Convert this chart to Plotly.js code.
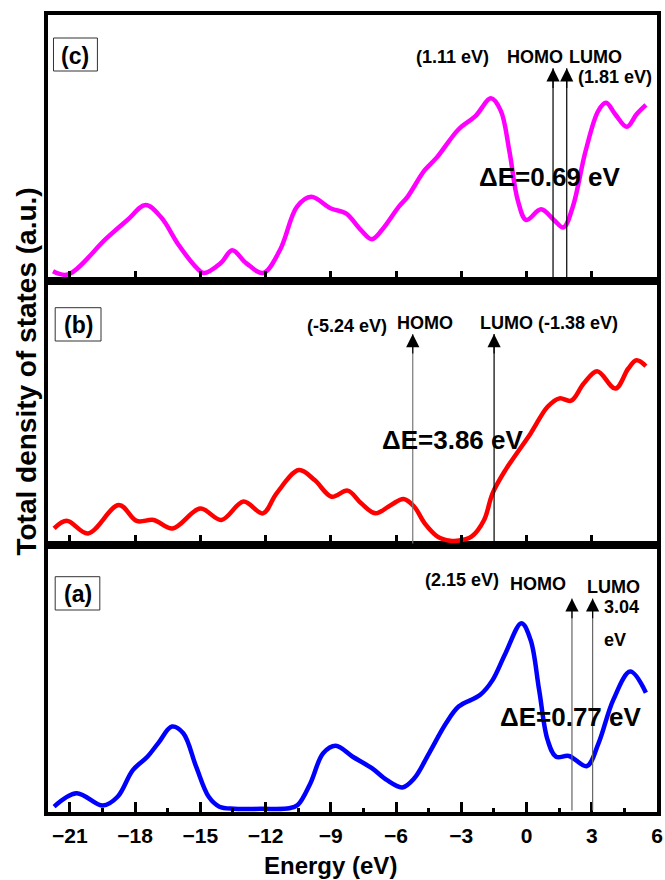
<!DOCTYPE html>
<html>
<head>
<meta charset="utf-8">
<script src="https://cdn.plot.ly/plotly-3.0.1.min.js"></script>
<style>html,body{margin:0;padding:0;background:#fff;}#chart{width:665px;height:880px;}</style>
</head>
<body>
<div id="chart"></div>
<script>
// ---- Data ----
// Panel (c) – magenta
const energyC = [-21.77,-21.08,-19.33,-18.35,-17.51,-16.8,-16.0,-15.23,-14.84,-14.06,-13.53,-12.89,-12.1,-11.33,-10.55,-9.9,-8.99,-8.3,-7.62,-7.11,-6.64,-5.87,-5.47,-4.69,-4.11,-3.13,-2.35,-1.63,-1.18,-0.79,-0.4,-0.01,0.67,1.26,1.7,2.13,2.72,3.3,3.66,4.08,4.61,5.06,5.49];
const dosC    = [3.7,2.5,16,23,28.6,24,13.7,5.6,3.1,6.8,11.6,6.8,3.1,11.8,28,31.7,27.3,25.5,19.3,15.8,19.3,28,31.7,41.6,46.6,57,62,68.7,64,49,30.4,23,27,23,20.2,28,49,64,67,62.7,58,62.7,66.2];
// Panel (b) – red
const energyB = [-21.72,-21.14,-20.16,-18.74,-17.92,-17.14,-16.27,-15.0,-14.03,-13.01,-12.12,-11.49,-10.46,-9.74,-8.96,-8.22,-7.6,-6.95,-6.23,-5.65,-5.16,-4.68,-4.09,-3.51,-3.21,-2.53,-1.95,-1.56,-0.97,0.19,0.97,1.52,2.05,2.63,3.25,4.09,4.68,5.06,5.49];
const dosB    = [6.3,9.2,4.4,15.2,9.1,9.5,6.3,13.8,9.5,16.5,12,19.6,28.4,24.6,18.3,20.6,15.8,12,15.2,17.4,14.5,8.2,3.2,1.6,1.6,3.2,9.5,19.6,28.4,42.3,52.4,55.6,54.7,61.2,65.9,59.3,66.9,70,67.8];
// Panel (a) – blue
const energyA = [-21.72,-20.69,-19.48,-18.8,-18.1,-17.43,-16.94,-16.3,-15.78,-15.19,-14.61,-14.12,-13.44,-12.2,-10.91,-10.52,-9.94,-9.35,-8.77,-7.99,-7.11,-6.43,-5.71,-5.16,-4.48,-3.7,-3.12,-2.14,-1.56,-0.97,-0.23,0.19,0.58,0.97,1.36,1.95,2.77,3.31,3.99,4.77,5.49];
const dosA    = [2.0,7.0,2.4,5.7,15.7,20.7,25.7,32,29.5,17,5.7,2,1.2,1.2,1.4,2.6,10.7,22,24.8,20.7,16.4,12,9.2,12.6,22,33.2,39.5,43.8,49.4,59.4,70.7,64.4,45.7,27,20.7,21,17.2,25.7,42,52.6,44.7];

// HOMO / LUMO arrow positions (eV) as drawn, panels a, b, c
const homoPos = [2.09, -5.23, 1.22];
const lumoPos = [3.04, -1.49, 1.85];
const panelTags = ['(a)', '(b)', '(c)'];
const gapLabels = ['\u0394E=0.77 eV', '\u0394E=3.86 eV', '\u0394E=0.69 eV'];
const xTickVals = [-21,-18,-15,-12,-9,-6,-3,0,3,6];

// ---- Geometry helpers (pixel -> paper) ----
const L = 47.5, R = 657.5, T = 15, B = 812;
const px = x => (x - L) / (R - L);
const py = y => (B - y) / (B - T);

const FONT = 'Arial, "Liberation Sans", sans-serif';

const traces = [
  {x: energyA, y: dosA, xaxis: 'x', yaxis: 'y', mode: 'lines', line: {color: '#0000FF', width: 4.5, shape: 'spline', smoothing: 1}},
  {x: energyB, y: dosB, xaxis: 'x2', yaxis: 'y2', mode: 'lines', line: {color: '#FF0000', width: 4.5, shape: 'spline', smoothing: 1}},
  {x: energyC, y: dosC, xaxis: 'x3', yaxis: 'y3', mode: 'lines', line: {color: '#FF00FF', width: 4.5, shape: 'spline', smoothing: 1}}
];

function xAxis(anchor, labels) {
  return {
    anchor: anchor, range: [-22, 6], tickvals: xTickVals, ticks: 'inside', ticklen: 10, tickwidth: 3, tickcolor: '#000',
    minor: {ticks: 'inside', dtick: 1.5, tick0: 0, ticklen: 4, tickwidth: 3, tickcolor: '#000'},
    showline: true, linewidth: 4, linecolor: '#000', mirror: true, showgrid: false, zeroline: false,
    showticklabels: labels, ticklabelstandoff: 2,
    tickfont: {family: FONT, size: 21, color: '#000', weight: 'bold'}
  };
}
function yAxis(anchor, dom) {
  return {anchor: anchor, domain: dom, range: [0, 100], showticklabels: false, ticks: '', showline: true, linewidth: 4,
          linecolor: '#000', mirror: true, showgrid: false, zeroline: false, fixedrange: true};
}

const ann = [];
const shapes = [];
function txt(x, y, s, size, extra) {
  ann.push(Object.assign({xref: 'paper', yref: 'paper', x: px(x), y: py(y), text: s, showarrow: false,
    xanchor: 'center', yanchor: 'middle', font: {family: FONT, size: size, color: '#000', weight: 'bold'}}, extra || {}));
}
function arrow(axis, e, color) {
  // shaft
  ann.push({xref: axis.x, yref: axis.y, axref: axis.x, ayref: axis.y, x: e, y: 80, ax: e, ay: 0, text: '',
    showarrow: true, arrowhead: 0, arrowwidth: 1.2, arrowcolor: color, standoff: 0, startstandoff: 0});
  // black arrow head
  ann.push({xref: axis.x, yref: axis.y, axref: axis.x, ayref: axis.y, x: e, y: 80, ax: e, ay: 72, text: '',
    showarrow: true, arrowhead: 2, arrowsize: 2.2, arrowwidth: 1.2, arrowcolor: '#000', standoff: 0, startstandoff: 0});
}
function box(x0, x1, y0, y1, label) {
  shapes.push({type: 'rect', xref: 'paper', yref: 'paper', x0: px(x0), x1: px(x1), y0: py(y1), y1: py(y0),
    line: {color: '#333', width: 1}, fillcolor: 'rgba(0,0,0,0)'});
  txt((x0 + x1) / 2, (y0 + y1) / 2 + 1, label, 23);
}

const ax = [{x: 'x', y: 'y'}, {x: 'x2', y: 'y2'}, {x: 'x3', y: 'y3'}];
// arrows
arrow(ax[0], homoPos[0], '#666'); arrow(ax[0], lumoPos[0], '#666');
arrow(ax[1], homoPos[1], '#777'); arrow(ax[1], lumoPos[1], '#000');
arrow(ax[2], homoPos[2], '#000'); arrow(ax[2], lumoPos[2], '#000');

// panel (c) texts
box(53, 97, 38, 71, panelTags[2]);
txt(452.7, 56.7, '(1.11 eV)', 18);
txt(535, 56.7, 'HOMO', 18);
txt(596, 56.7, 'LUMO', 18);
txt(615, 76.7, '(1.81 eV)', 18);
txt(550.5, 176.7, gapLabels[2], 26);
// panel (b) texts
box(54.7, 100.6, 307.7, 341, panelTags[1]);
txt(346.7, 326, '(-5.24 eV)', 18);
txt(425, 322.7, 'HOMO', 18);
txt(549, 322.7, 'LUMO (-1.38 eV)', 18);
txt(453, 440, gapLabels[1], 26);
// panel (a) texts
box(54.7, 99.4, 576.7, 610, panelTags[0]);
txt(462, 580, '(2.15 eV)', 18);
txt(538.3, 584, 'HOMO', 18);
txt(614.3, 586.7, 'LUMO', 18);
txt(621.7, 606.7, '3.04', 18);
txt(615, 640, 'eV', 18);
txt(571, 716.7, gapLabels[0], 26);

// axis titles
txt(330, 865, 'Energy (eV)', 24);
txt(25, 372, 'Total density of states (a.u.)', 28, {textangle: -90});

const layout = {
  width: 665, height: 880, margin: {l: L, r: 665 - R, t: T, b: 880 - B, pad: 0},
  paper_bgcolor: '#fff', plot_bgcolor: '#fff', showlegend: false,
  xaxis: xAxis('y', true),
  xaxis2: Object.assign(xAxis('y2', false), {matches: 'x'}),
  xaxis3: Object.assign(xAxis('y3', false), {matches: 'x'}),
  yaxis: yAxis('x', [0, 0.335]),
  yaxis2: yAxis('x2', [0.335, 0.666]),
  yaxis3: yAxis('x3', [0.666, 1]),
  annotations: ann, shapes: shapes
};

Plotly.newPlot('chart', traces, layout, {displayModeBar: false, staticPlot: true});
</script>
</body>
</html>
